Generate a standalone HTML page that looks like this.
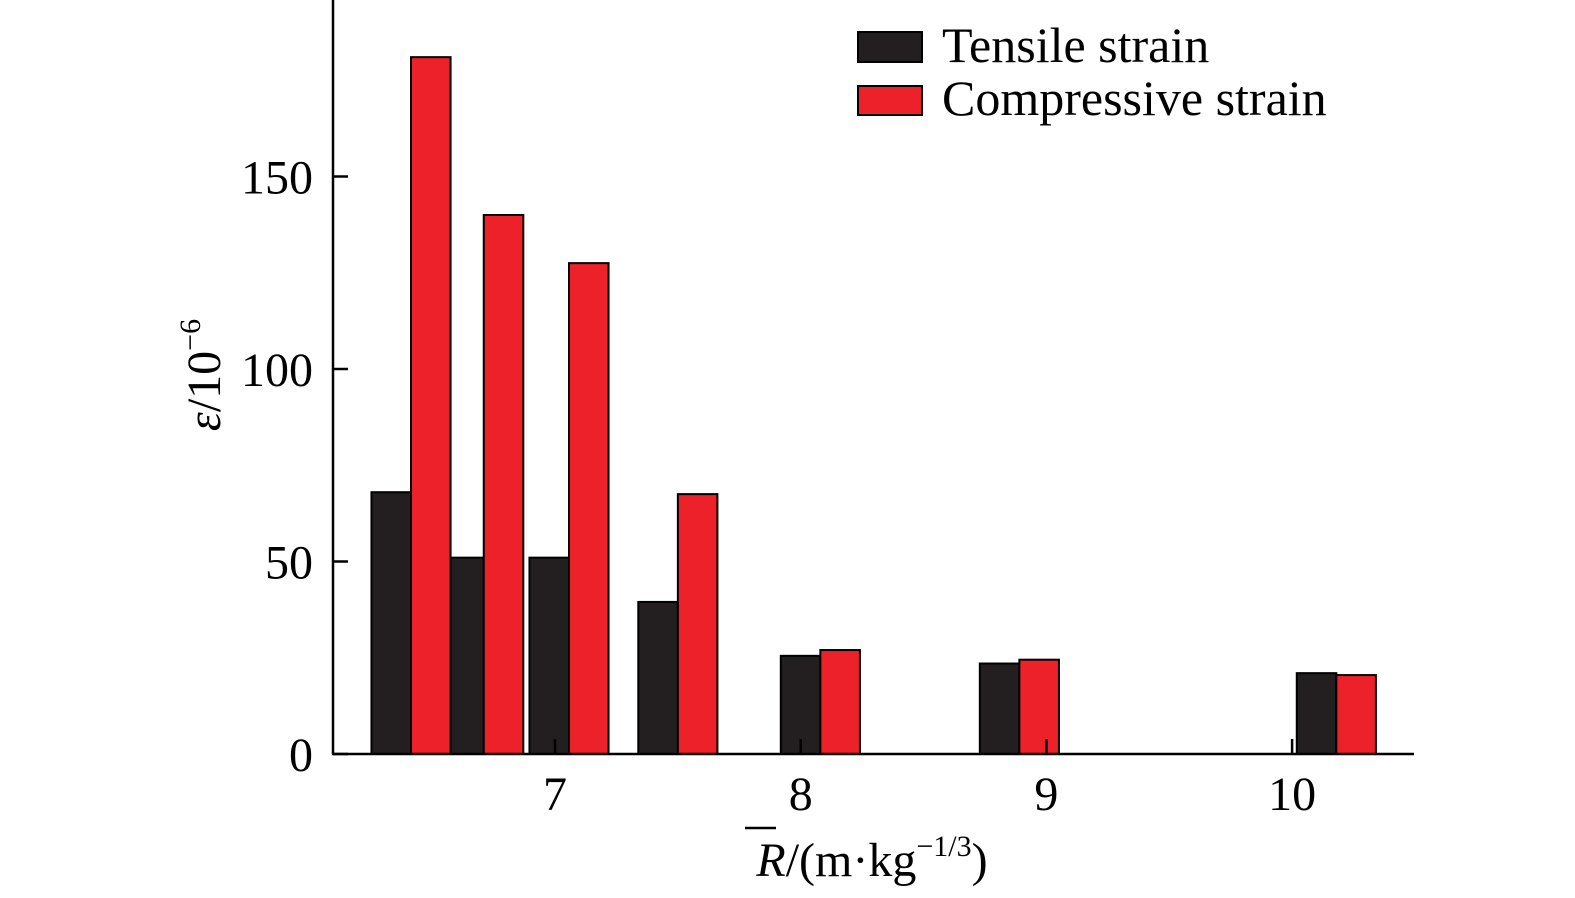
<!DOCTYPE html>
<html><head><meta charset="utf-8"><style>
html,body{margin:0;padding:0;background:#fff}
svg{display:block;font-family:"Liberation Serif",serif}
</style></head><body>
<svg id="chart" width="1575" height="898" viewBox="0 0 1575 898">
<g id="bars"></g>
<g id="axes"></g>
<g>
 <rect x="858" y="32" width="64" height="30" fill="#231f20" stroke="#000" stroke-width="2"/>
 <text x="942" y="62" font-size="50">Tensile strain</text>
 <rect x="858" y="86" width="64" height="29" fill="#ed2129" stroke="#000" stroke-width="2"/>
 <text x="942" y="115" font-size="50">Compressive strain</text>
</g>
<text x="872" y="876" font-size="48" text-anchor="middle"><tspan font-style="italic">R</tspan>/(m·kg<tspan font-size="30" dy="-20">−1/3</tspan><tspan dy="20">)</tspan></text>
<line x1="745" y1="828" x2="776" y2="828" stroke="#000" stroke-width="2.5"/>
<text transform="translate(220,375) rotate(-90)" font-size="48" text-anchor="middle"><tspan font-style="italic">ε</tspan>/10<tspan font-size="30" dy="-20">−6</tspan></text>
</svg>
<script>
const positions = [6.414, 6.71, 7.057, 7.5, 8.08, 8.89, 10.18];
const tensile = [68, 51, 51, 39.5, 25.5, 23.5, 21];
const compressive = [181, 140, 127.5, 67.5, 27, 24.5, 20.5];
const xTicks = [7, 8, 9, 10];
const yTicks = [0, 50, 100, 150];

const NS = "http://www.w3.org/2000/svg";
const x = v => 555 + (v - 7) * 245.7;
const y = v => 754 - v * 3.85;
const bw = 0.161;
const bars = document.getElementById('bars');
const axes = document.getElementById('axes');
function mk(tag, attrs, parent){const e=document.createElementNS(NS,tag);for(const k in attrs)e.setAttribute(k,attrs[k]);parent.appendChild(e);return e;}
tensile.forEach((v,i)=>{
  const r = mk('rect',{x:x(positions[i]-bw),y:y(v),width:bw*245.7,height:y(0)-y(v),fill:'#231f20',stroke:'#000','stroke-width':2},bars);
  
  
});
compressive.forEach((v,i)=>{
  const r = mk('rect',{x:x(positions[i]),y:y(v),width:bw*245.7,height:y(0)-y(v),fill:'#ed2129',stroke:'#000','stroke-width':2},bars);
  
  
});
const ya = mk('line',{x1:333,y1:0,x2:333,y2:754,stroke:'#000','stroke-width':2.5},axes);


const xa = mk('line',{x1:332,y1:754,x2:1414,y2:754,stroke:'#000','stroke-width':2.5},axes);


yTicks.forEach(t=>{
  const l = mk('line',{x1:333,y1:y(t),x2:348,y2:y(t),stroke:'#000','stroke-width':2.5},axes);
  
  
  const tx = mk('text',{x:313,y:y(t)+17,'font-size':48,'text-anchor':'end'},axes);
  tx.textContent = t;
  
  
});
xTicks.forEach(t=>{
  const l = mk('line',{x1:x(t),y1:754,x2:x(t),y2:739,stroke:'#000','stroke-width':2.5},axes);
  
  
  const tx = mk('text',{x:x(t),y:810,'font-size':48,'text-anchor':'middle'},axes);
  tx.textContent = t;
  
  
});
</script>
</body></html>
